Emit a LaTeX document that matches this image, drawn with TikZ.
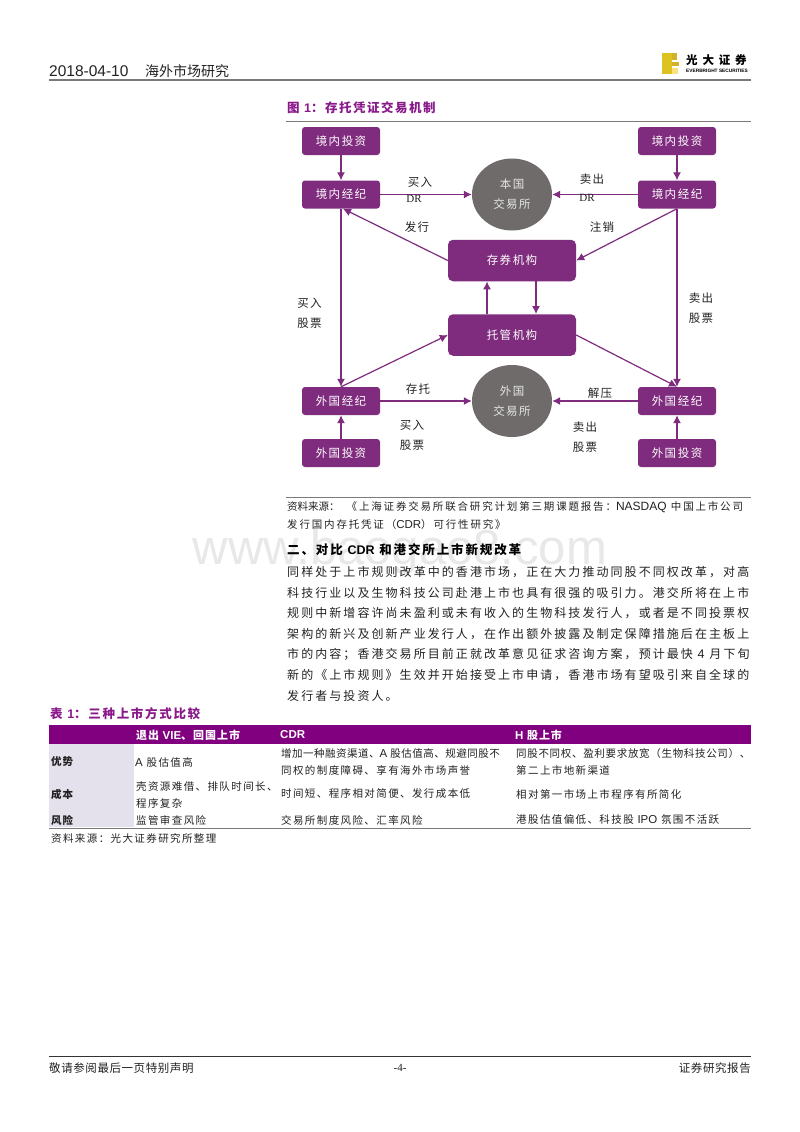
\documentclass[tikz,border=0pt]{standalone}
\usepackage{fontspec}
\usetikzlibrary{arrows.meta,shapes.geometric}
\setmainfont{Noto Sans CJK SC}
\newfontfamily\latf{Liberation Sans}
\newfontfamily\serf{Liberation Serif}
\newcommand{\lat}[1]{{\latf\fontsize{11.5}{0}\selectfont #1}}
\newcommand{\latl}[1]{{\latf\fontsize{12.5}{0}\selectfont #1}}
\newcommand{\tsp}[1]{\addfontfeature{LetterSpace=#1}}
\definecolor{boxp}{HTML}{7F2C7E}
\definecolor{headp}{HTML}{800080}
\definecolor{titlep}{HTML}{8A1A8A}
\definecolor{ellg}{HTML}{6F6B6B}
\definecolor{lav}{HTML}{E4E0EC}
\definecolor{rule}{HTML}{7A7A7A}
\definecolor{txt}{HTML}{222222}
\tikzset{
 pbox/.style={draw=none,fill=boxp,rounded corners=3pt,minimum width=78pt,minimum height=28pt,inner sep=0pt,text=white,font=\fontsize{11.5}{13}\selectfont\tsp{13}},
 mbox/.style={pbox,rounded corners=5pt,minimum width=128pt,minimum height=41.5pt},
 gell/.style={ellipse,draw=none,fill=ellg,minimum width=80pt,minimum height=72pt,inner sep=0pt,text=white!90!black,align=center,font=\fontsize{11.5}{20}\selectfont\tsp{13}},
 conn/.style={draw=boxp,line width=1.2pt,-{Latex[length=8pt,width=8pt]}},
 lab/.style={inner sep=0pt,text=txt,align=center,font=\fontsize{11.5}{20}\selectfont\tsp{10}},
 tabt/.style={inner sep=0pt,anchor=west,text=txt,align=left,font=\fontsize{10.5}{17}\selectfont\tsp{13.3}},
 tabb/.style={inner sep=0pt,anchor=west,text=txt,font=\bfseries\fontsize{10.5}{12}\selectfont\tsp{8}},
 tabh/.style={inner sep=0pt,anchor=west,text=white,font=\bfseries\fontsize{11}{12}\selectfont\tsp{9}},
 ptitle/.style={inner sep=0pt,anchor=west,text=titlep,font=\bfseries\fontsize{12.5}{13}\selectfont\tsp{12}},
 srct/.style={inner sep=0pt,anchor=west,text=txt,align=left,font=\fontsize{10.5}{18}\selectfont\tsp{17.4}},
 foot/.style={inner sep=0pt,text=txt,font=\fontsize{11.5}{13}\selectfont\tsp{5}},
}
\begin{document}
\begin{tikzpicture}[x=1pt,y=-1pt]
\useasboundingbox (0,0) rectangle (800,1132);
\fill[white] (0,0) rectangle (800,1132);
% watermark
\node[inner sep=0pt,text=black!9,font=\latf\fontsize{49}{50}\selectfont] (wm) at (400,552) {www.baogao8.com};
% header
\node[inner sep=0pt,anchor=west,text=txt,font=\latf\fontsize{15.5}{16}\selectfont] (hd) at (49,71) {2018-04-10};
\node[inner sep=0pt,anchor=west,text=txt,font=\fontsize{14}{16}\selectfont] (hs) at (145,71) {海外市场研究};
\draw[rule,line width=2.5pt] (49,80) -- (751,80);
% logo
\fill[yellow!80!orange!85!black] (662,53) rectangle (672,74);
\fill[yellow!70!orange!80!black] (672,53) -- (677,53) -- (677,60) -- (672,60) -- cycle;
\fill[yellow!70!orange!80!black] (672,62) -- (679,62) -- (679,66) -- (672,66) -- cycle;
\fill[yellow!60!orange!50!white] (672,68) -- (678,68) -- (678,74) -- (672,74) -- cycle;
\node[inner sep=0pt,anchor=west,text=black,font=\bfseries\fontsize{11.5}{13}\selectfont\tsp{42}] (ln) at (686,60) {光大证券};
\node[inner sep=0pt,anchor=west,text=black,font=\latf\bfseries\fontsize{4.8}{5}\selectfont] (le) at (686,71) {EVERBRIGHT SECURITIES};
% figure title
\node[ptitle] (ft) at (287,108) {图 \latl{\bfseries 1}：存托凭证交易机制};
\draw[rule,line width=.8pt] (286,121) -- (751,121);
% boxes
\node[pbox] (il) at (341,141) {境内投资};
\node[pbox] (ir) at (677,141) {境内投资};
\node[pbox] (jl) at (341,194.5) {境内经纪};
\node[pbox] (jr) at (677,194.5) {境内经纪};
\node[gell] (be) at (512,194.5) {本国\\交易所};
\node[mbox] (cq) at (512,260.5) {存券机构};
\node[mbox] (tg) at (512,335) {托管机构};
\node[pbox] (wl) at (341,401) {外国经纪};
\node[pbox] (wr) at (677,401) {外国经纪};
\node[gell] (we) at (512,401) {外国\\交易所};
\node[pbox] (fl) at (341,453) {外国投资};
\node[pbox] (fr) at (677,453) {外国投资};
% connectors
\draw[conn] (il) -- (jl);
\draw[conn] (ir) -- (jr);
\draw[conn] (jl) -- (be);
\draw[conn] (jr) -- (be);
\draw[conn] (cq.west) -- ([xshift=2pt]jl.south);
\draw[conn] (jr.south) -- (cq.east);
\draw[conn] (jl.south) -- (wl.north);
\draw[conn] (jr.south) -- (wr.north);
\draw[conn] ([xshift=-25pt]tg.north) -- ([xshift=-25pt]cq.south);
\draw[conn] ([xshift=24pt]cq.south) -- ([xshift=24pt]tg.north);
\draw[conn] (wl.north) -- (tg.west);
\draw[conn] (tg.east) -- (wr.north);
\draw[conn] (wl) -- (we);
\draw[conn] (wr) -- (we);
\draw[conn] (fl) -- (wl);
\draw[conn] (fr) -- (wr);
% connector labels
\node[lab] (t1) at (420,182) {买入};
\node[inner sep=0pt,text=txt,font=\serf\fontsize{11}{12}\selectfont] (t2) at (414,199) {DR};
\node[lab] (t3) at (592,179) {卖出};
\node[inner sep=0pt,text=txt,font=\serf\fontsize{11}{12}\selectfont] (t4) at (587,198) {DR};
\node[lab] (t5) at (417,227) {发行};
\node[lab] (t6) at (602,227) {注销};
\node[lab] (t7) at (309.5,313) {买入\\股票};
\node[lab] (t8) at (701,308.5) {卖出\\股票};
\node[lab] (t9) at (418,389) {存托};
\node[lab] (t10) at (600,393) {解压};
\node[lab] (t11) at (412,435) {买入\\股票};
\node[lab] (t12) at (585,437) {卖出\\股票};
% source
\draw[rule,line width=.8pt] (286,497) -- (751,497);
\node[srct] (s1) at (287,515.5) {{\tsp{0}资料来源：}\hspace{7pt}《上海证券交易所联合研究计划第三期课题报告：\lat{\fontsize{12}{0}\selectfont NASDAQ} 中国上市公司\\发行国内存托凭证（\lat{CDR}）可行性研究》};
% section
\node[inner sep=0pt,anchor=west,text=black,font=\bfseries\fontsize{12.5}{13}\selectfont\tsp{15}] (sec) at (287,550) {二、对比 \latl{\bfseries CDR} 和港交所上市新规改革};
\node[inner sep=0pt,anchor=north west,text=txt,align=left,font=\fontsize{12}{20.65}\selectfont\tsp{17.2}] (body) at (287,566) {同样处于上市规则改革中的香港市场，正在大力推动同股不同权改革，对高\\
科技行业以及生物科技公司赴港上市也具有很强的吸引力。港交所将在上市\\
规则中新增容许尚未盈利或未有收入的生物科技发行人，或者是不同投票权\\
架构的新兴及创新产业发行人，在作出额外披露及制定保障措施后在主板上\\
市的内容；香港交易所目前正就改革意见征求咨询方案，预计最快 \latl{4} 月下旬\\
新的《上市规则》生效并开始接受上市申请，香港市场有望吸引来自全球的\\
发行者与投资人。};
% table
\node[ptitle,font=\bfseries\fontsize{12.5}{13}\selectfont\tsp{13.5}] (tt) at (50,714) {表 \latl{\bfseries 1}：三种上市方式比较};
\fill[headp] (49,725) rectangle (751,744);
\fill[lav] (49,744) rectangle (134,827);
\draw[rule,line width=1pt] (49,828) -- (751,828);
\node[tabh] (h1) at (136,735) {退出 \lat{\bfseries VIE}、回国上市};
\node[tabh] (h2) at (280,735) {\lat{\bfseries CDR}};
\node[tabh] (h3) at (515,735) {\lat{\bfseries H} 股上市};
\node[tabb] (r1) at (51,762) {优势};
\node[tabb] (r2) at (51,794) {成本};
\node[tabb] (r3) at (51,820) {风险};
\node[tabt] (c11) at (135,762) {\lat{A} 股估值高};
\node[tabt] (c12) at (281,762) {{\tsp{4.8}增加一种融资渠道、\lat{A} 股估值高、规避同股不}\\同权的制度障碍、享有海外市场声誉};
\node[tabt] (c13) at (516,762) {{\tsp{6.5}同股不同权、盈利要求放宽（生物科技公司）、}\\第二上市地新渠道};
\node[tabt] (c21) at (136,795) {壳资源难借、排队时间长、\\程序复杂};
\node[tabt] (c22) at (281,794) {时间短、程序相对简便、发行成本低};
\node[tabt] (c23) at (516,794) {相对第一市场上市程序有所简化};
\node[tabt] (c31) at (136,820) {监管审查风险};
\node[tabt] (c32) at (281,820) {交易所制度风险、汇率风险};
\node[tabt] (c33) at (516,820) {港股估值偏低、科技股 \lat{IPO} 氛围不活跃};
\node[tabt] (ts) at (51,838) {资料来源：光大证券研究所整理};
% footer
\draw[black!80,line width=.8pt] (49,1056) -- (751,1056);
\node[foot,anchor=west] (f1) at (49,1068) {敬请参阅最后一页特别声明};
\node[foot,font=\serf\fontsize{11}{13}\selectfont] (f2) at (400,1068) {-4-};
\node[foot,anchor=east] (f3) at (751,1068) {证券研究报告};
\end{tikzpicture}
\end{document}
